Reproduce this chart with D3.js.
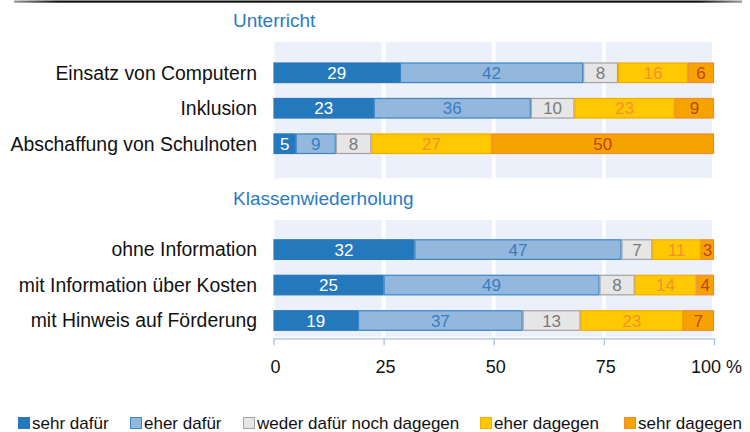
<!DOCTYPE html>
<html>
<head>
<meta charset="utf-8">
<script src="https://cdn.jsdelivr.net/npm/d3@7"></script>
<style>
  html, body { margin: 0; padding: 0; background: #fff; }
  svg { display: block; font-family: "Liberation Sans", Arial, sans-serif; }
</style>
</head>
<body>
<svg id="chart" width="750" height="432"></svg>
<script>
// ---------- data ----------
const sectionTitles = ["Unterricht", "Klassenwiederholung"];
const categoriesUnterricht = ["Einsatz von Computern", "Inklusion", "Abschaffung von Schulnoten"];
const categoriesKlasse = ["ohne Information", "mit Information über Kosten", "mit Hinweis auf Förderung"];
const seriesNames = ["sehr dafür", "eher dafür", "weder dafür noch dagegen", "eher dagegen", "sehr dagegen"];
// values per series, order: Unterricht rows then Klassenwiederholung rows
const sehrDafuer   = [29, 23, 5, 32, 25, 19];
const eherDafuer   = [42, 36, 9, 47, 49, 37];
const weder        = [8, 10, 8, 7, 8, 13];
const eherDagegen  = [16, 23, 27, 11, 14, 23];
const sehrDagegen  = [6, 9, 50, 3, 4, 7];
const tickValues = [0, 25, 50, 75, 100];

// ---------- styles ----------
const fills   = ["#2479BD", "#93B7DD", "#E6E6E6", "#FFC800", "#F6A300"];
const strokes = ["#2B77B8", "#3D86C6", "#A3A3A3", "#F5AE00", "#F08A33"];
const labelColors = ["#FFFFFF", "#3A7DC0", "#7A7A7A", "#F39233", "#C0431A"];

const svg = d3.select("#chart");

// top rule with faded ends
const defs = svg.append("defs");
const grad = defs.append("linearGradient").attr("id", "rule").attr("x1", "0%").attr("x2", "100%");
grad.append("stop").attr("offset", "0%").attr("stop-color", "#9a9a9a");
grad.append("stop").attr("offset", "6%").attr("stop-color", "#111");
grad.append("stop").attr("offset", "94%").attr("stop-color", "#111");
grad.append("stop").attr("offset", "100%").attr("stop-color", "#9a9a9a");
svg.append("rect").attr("x", 14).attr("y", 0.5).attr("width", 728).attr("height", 2.2).attr("fill", "url(#rule)");

const x = d3.scaleLinear().domain([0, 100]).range([273.5, 714]);

const rows = [...categoriesUnterricht, ...categoriesKlasse].map((c, i) => ({
  cat: c,
  v: [sehrDafuer[i], eherDafuer[i], weder[i], eherDagegen[i], sehrDagegen[i]]
}));
const keys = [0, 1, 2, 3, 4];
const stacked = d3.stack()
  .keys(keys)
  .value((d, k) => d.v[k])
  .offset(d3.stackOffsetExpand)(rows);

const panels = [
  { title: sectionTitles[0], cats: categoriesUnterricht, top: 42, bottom: 178.3, barTop: 62.5, titleY: 27, rowOffset: 0 },
  { title: sectionTitles[1], cats: categoriesKlasse, top: 220, bottom: 336.7, barTop: 239.3, titleY: 205, rowOffset: 3 }
];

panels.forEach(p => {
  const g = svg.append("g");
  // background columns
  const cols = d3.range(4);
  g.selectAll("rect.bg").data(cols).join("rect")
    .attr("class", "bg")
    .attr("x", i => x(tickValues[i]) + (i === 0 ? 1 : 2))
    .attr("width", i => (x(tickValues[i + 1]) - 2) - (x(tickValues[i]) + (i === 0 ? 1 : 2)))
    .attr("y", p.top)
    .attr("height", p.bottom - p.top)
    .attr("fill", "#ECF0FA");

  // section title
  g.append("text")
    .attr("x", 233).attr("y", p.titleY)
    .attr("font-size", 19).attr("fill", "#2B7BC3")
    .text(p.title);

  const y = d3.scaleBand()
    .domain(p.cats)
    .range([p.barTop, p.barTop + 91.5])
    .paddingInner(0.42).paddingOuter(0);

  // category labels
  g.selectAll("text.cat").data(p.cats).join("text")
    .attr("class", "cat")
    .attr("x", 257)
    .attr("y", d => y(d) + y.bandwidth() / 2 + 6.8)
    .attr("text-anchor", "end")
    .attr("font-size", 19.4)
    .attr("fill", "#111")
    .text(d => d);

  // bars
  stacked.forEach((layer, k) => {
    const segs = layer.slice(p.rowOffset, p.rowOffset + 3).map((s, j) => ({
      x0: s[0] * 100, x1: s[1] * 100, cat: p.cats[j], val: s.data.v[k]
    }));
    g.selectAll("rect.s" + k).data(segs).join("rect")
      .attr("class", "s" + k)
      .attr("x", d => x(d.x0) + 0.5)
      .attr("width", d => Math.max(0, x(d.x1) - x(d.x0) - 1))
      .attr("y", d => y(d.cat) + 0.5)
      .attr("height", y.bandwidth() - 1)
      .attr("fill", fills[k])
      .attr("stroke", strokes[k])
      .attr("stroke-width", 1.2);
    g.selectAll("text.l" + k).data(segs).join("text")
      .attr("class", "l" + k)
      .attr("x", d => (x(d.x0) + x(d.x1)) / 2)
      .attr("y", d => y(d.cat) + y.bandwidth() / 2 + 6)
      .attr("text-anchor", "middle")
      .attr("font-size", 17)
      .attr("fill", labelColors[k])
      .text(d => d.val);
  });
});

// x axis
const axisG = svg.append("g").attr("transform", "translate(0,338.3)")
  .call(d3.axisBottom(x).tickValues(tickValues).tickSize(7).tickSizeOuter(0)
    .tickFormat(d => d === 100 ? "100 %" : d));
axisG.select(".domain").attr("stroke", "#A9BFE6").attr("stroke-width", 1.3);
axisG.selectAll(".tick line").attr("stroke", "#A9BFE6").attr("stroke-width", 1.3);
axisG.selectAll(".tick text")
  .attr("y", 35).attr("dy", null).attr("dx", d => d === 100 ? 2 : 1.5)
  .attr("font-size", 18).attr("fill", "#111")
  .attr("font-family", "\"Liberation Sans\", Arial, sans-serif");

// legend
const legendX = [18, 130, 243, 480, 624];
const lg = svg.append("g");
seriesNames.forEach((name, k) => {
  lg.append("rect")
    .attr("x", legendX[k] + 0.5).attr("y", 417.5)
    .attr("width", 11).attr("height", 11)
    .attr("fill", fills[k]).attr("stroke", strokes[k]).attr("stroke-width", 1);
  lg.append("text")
    .attr("x", legendX[k] + 14).attr("y", 429)
    .attr("font-size", 17).attr("fill", "#111")
    .text(name);
});
</script>
</body>
</html>
